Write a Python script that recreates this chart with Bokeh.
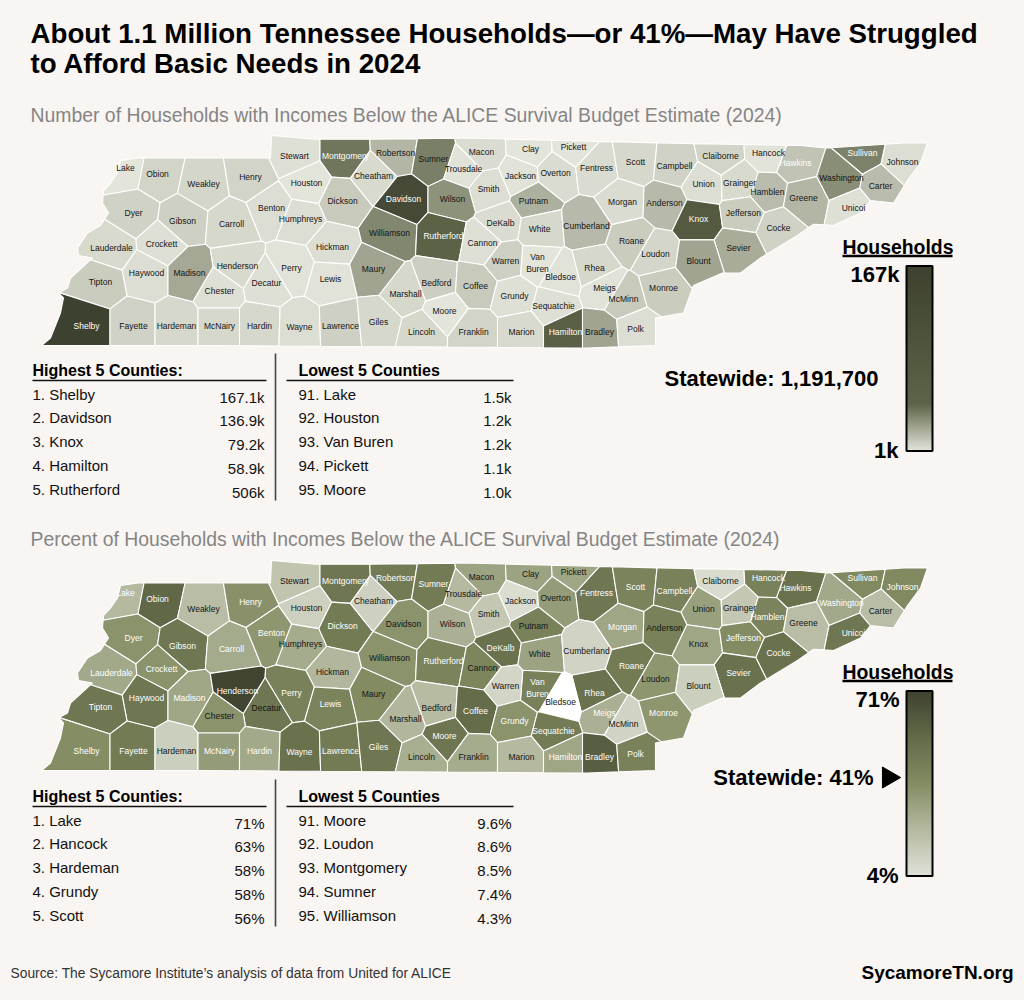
import numpy as np
from bokeh.plotting import figure
from bokeh.models import ColumnDataSource, LinearColorMapper, ColorBar, Range1d
from bokeh.core.properties import value
from bokeh.embed import file_html
from bokeh.resources import INLINE

# ---------------- DATA ----------------
county_names = [
    "Lake", "Obion", "Weakley", "Henry", "Stewart", "Montgomery", "Houston", "Dickson",
    "Dyer", "Gibson", "Carroll", "Benton", "Humphreys", "Hickman", "Lauderdale", "Crockett",
    "Haywood", "Madison", "Henderson", "Perry", "Decatur", "Lewis", "Tipton", "Chester",
    "Shelby", "Fayette", "Hardeman", "McNairy", "Hardin", "Wayne", "Lawrence", "Robertson",
    "Sumner", "Macon", "Clay", "Pickett", "Trousdale", "Cheatham", "Jackson", "Overton",
    "Fentress", "Scott", "Smith", "Davidson", "Wilson", "Putnam", "Morgan", "DeKalb",
    "White", "Cumberland", "Williamson", "Rutherford", "Cannon", "Roane", "Van Buren", "Warren",
    "Maury", "Rhea", "Bledsoe", "Loudon", "Bedford", "Coffee", "Marshall", "Grundy",
    "Meigs", "McMinn", "Sequatchie", "Moore", "Giles", "Lincoln", "Franklin", "Marion",
    "Hamilton", "Bradley", "Polk", "Monroe", "Campbell", "Claiborne", "Hancock", "Sullivan",
    "Johnson", "Hawkins", "Washington", "Carter", "Union", "Grainger", "Hamblen", "Greene",
    "Unicoi", "Anderson", "Knox", "Jefferson", "Cocke", "Sevier", "Blount",
]

# approximate county centre longitude / latitude
county_lon = [
    -89.35, -89.03, -88.57, -88.10, -87.66, -87.15, -87.54, -87.18,
    -89.27, -88.78, -88.29, -87.89, -87.60, -87.28, -89.49, -88.99,
    -89.14, -88.71, -88.23, -87.69, -87.94, -87.30, -89.60, -88.41,
    -89.74, -89.27, -88.84, -88.41, -88.01, -87.61, -87.20, -86.65,
    -86.27, -85.79, -85.30, -84.87, -85.97, -86.87, -85.40, -85.05,
    -84.64, -84.25, -85.72, -86.57, -86.08, -85.27, -84.38, -85.60,
    -85.21, -84.74, -86.71, -86.17, -85.78, -84.29, -85.23, -85.55,
    -86.87, -84.66, -85.00, -84.05, -86.24, -85.85, -86.55, -85.46,
    -84.56, -84.37, -85.07, -86.16, -86.82, -86.39, -85.87, -85.39,
    -84.95, -84.61, -84.25, -83.97, -83.86, -83.40, -82.92, -81.98,
    -81.58, -82.65, -82.19, -81.80, -83.57, -83.21, -82.93, -82.57,
    -82.07, -83.96, -83.62, -83.17, -82.82, -83.22, -83.62,
]
county_lat = [
    36.42, 36.37, 36.29, 36.35, 36.52, 36.52, 36.30, 36.16,
    36.06, 36.00, 35.97, 36.10, 36.01, 35.79, 35.78, 35.81,
    35.58, 35.58, 35.64, 35.62, 35.50, 35.53, 35.51, 35.44,
    35.16, 35.16, 35.16, 35.16, 35.16, 35.15, 35.16, 36.54,
    36.49, 36.55, 36.57, 36.59, 36.41, 36.36, 36.36, 36.38,
    36.42, 36.47, 36.25, 36.17, 36.17, 36.16, 36.15, 35.98,
    35.93, 35.96, 35.90, 35.88, 35.82, 35.84, 35.66, 35.68,
    35.61, 35.62, 35.55, 35.73, 35.50, 35.48, 35.41, 35.40,
    35.46, 35.37, 35.32, 35.28, 35.19, 35.11, 35.11, 35.11,
    35.11, 35.11, 35.13, 35.46, 36.44, 36.52, 36.54, 36.54,
    36.47, 36.46, 36.34, 36.28, 36.29, 36.30, 36.23, 36.18,
    36.10, 36.14, 36.01, 36.06, 35.94, 35.78, 35.68,
]

# households below ALICE survival budget (thousands)
households_k = [
    1.5, 6.6, 6.0, 6.5, 2.5, 37.0, 1.2, 9.5,
    7.0, 8.0, 5.5, 3.0, 3.0, 3.5, 4.5, 2.5,
    3.0, 20.5, 4.5, 1.9, 2.5, 2.2, 9.0, 2.7,
    167.1, 7.0, 5.5, 5.5, 5.0, 3.0, 8.0, 16.0,
    34.0, 4.0, 1.6, 1.1, 2.0, 4.5, 2.2, 4.0,
    4.0, 5.0, 3.5, 136.9, 28.0, 18.0, 4.0, 4.0,
    5.0, 15.0, 31.0, 50.6, 2.5, 9.0, 1.2, 8.0,
    22.0, 5.5, 2.2, 6.0, 8.5, 10.0, 5.5, 2.7,
    2.0, 10.0, 2.4, 1.0, 5.5, 5.5, 6.5, 4.5,
    58.9, 22.0, 3.0, 9.0, 7.0, 6.5, 1.7, 33.0,
    3.0, 12.0, 29.0, 14.0, 3.5, 4.5, 14.0, 16.0,
    2.8, 15.0, 79.2, 9.0, 7.0, 19.5, 22.0,
]

# percent of households below ALICE survival budget (as shaded on the map)
households_pct = [
    21, 55, 19, 35.5, 16, 48, 11.5, 46,
    35, 48, 26.5, 34, 26, 22, 27, 35,
    48, 28, 70, 43, 48, 42, 48, 35,
    37, 46, 12, 32, 27, 51, 46, 46,
    46, 29, 29, 28, 21, 11, 6, 32,
    48, 42, 15, 35, 24, 43, 28, 51,
    29, 10, 35, 42, 41, 46, 43, 9,
    38, 51, float("nan"), 34, 20, 53, 22, 35,
    24, 10, 46, 49, 48, 25, 26, 21,
    28, 59, 43, 34, 43, 7, 43, 39,
    39, 51, 27, 19, 30, 15, 42, 19,
    48, 43, 28, 38, 51, 51, 12,
]

# Tennessee outline (approximate lon / lat)
state_lon = [-90.19, -88.60, -86.60, -84.73, -84.05, -84.05, -83.77, -83.67, -83.38, -83.20,
             -83.00, -82.63, -82.47, -82.27, -82.00, -81.90, -81.67, -81.53, -81.40, -81.33,
             -81.57, -82.33, -82.60, -84.00, -84.97, -85.97, -86.97, -87.45, -87.89, -87.90,
             -89.22, -89.40, -89.43, -89.50, -89.57, -89.58, -89.52, -89.60, -89.73, -89.83,
             -89.82, -89.68, -89.90, -89.93, -90.02, -89.97, -90.00, -90.05, -90.10]
state_lat = [35.00, 35.00, 34.99, 34.98, 35.00, 35.22, 35.26, 35.48, 35.58, 35.58,
             35.70, 35.88, 35.97, 35.96, 36.06, 36.16, 36.14, 36.32, 36.46, 36.62,
             36.62, 36.58, 36.60, 36.62, 36.64, 36.66, 36.65, 36.65, 36.68, 36.50,
             36.50, 36.48, 36.38, 36.30, 36.24, 36.14, 36.06, 35.96, 35.90, 35.78,
             35.72, 35.70, 35.54, 35.46, 35.42, 35.38, 35.26, 35.16, 35.06]

# tables
hh_top_rank = [1, 2, 3, 4, 5]
hh_top_names = ["Shelby", "Davidson", "Knox", "Hamilton", "Rutherford"]
hh_top_vals = ["167.1k", "136.9k", "79.2k", "58.9k", "506k"]
hh_low_rank = [91, 92, 93, 94, 95]
hh_low_names = ["Lake", "Houston", "Van Buren", "Pickett", "Moore"]
hh_low_vals = ["1.5k", "1.2k", "1.2k", "1.1k", "1.0k"]
pct_top_rank = [1, 2, 3, 4, 5]
pct_top_names = ["Lake", "Hancock", "Hardeman", "Grundy", "Scott"]
pct_top_vals = ["71%", "63%", "58%", "58%", "56%"]
pct_low_rank = [91, 92, 93, 94, 95]
pct_low_names = ["Moore", "Loudon", "Montgomery", "Sumner", "Williamson"]
pct_low_vals = ["9.6%", "8.6%", "8.5%", "7.4%", "4.3%"]

hh_scale = [1.0, 167.1]          # legend range, thousands
pct_scale = [4, 71]              # legend range, percent
hh_scale_labels = ["1k", "167k"]
pct_scale_labels = ["4%", "71%"]
statewide_households = "1,191,700"
statewide_pct = "41%"

white_labels_hh = {"Shelby", "Davidson", "Rutherford", "Knox", "Hamilton",
                   "Hawkins", "Sullivan", "Montgomery"}
white_labels_pct = {"Lake", "Obion", "Henry", "Dyer", "Gibson", "Carroll", "Benton", "Crockett",
                    "Lauderdale", "Haywood", "Madison", "Henderson", "Perry", "Lewis", "Tipton",
                    "Shelby", "Fayette", "McNairy", "Hardin", "Wayne", "Lawrence", "Montgomery",
                    "Dickson", "Robertson", "Sumner", "Fentress", "Scott", "DeKalb", "Rutherford",
                    "Van Buren", "Rhea", "Coffee", "Moore", "Giles", "Sequatchie", "Hamilton",
                    "Bradley", "Polk", "Morgan", "Roane", "Meigs", "Campbell", "Hancock",
                    "Hawkins", "Sullivan", "Johnson", "Washington", "Hamblen", "Unicoi",
                    "Jefferson", "Cocke", "Sevier", "Monroe", "Grundy"}

n = len(county_names)
assert len(county_lon) == n == len(county_lat) == len(households_k) == len(households_pct) == 95

# ---------------- STYLE ----------------
BG = "#f9f5f2"
FONT = "Liberation Sans"
W, H = 1016, 992


def ramp(stops, m=256):
    out = []
    for k in range(m):
        t = k / (m - 1)
        for (t0, c0), (t1, c1) in zip(stops[:-1], stops[1:]):
            if t <= t1:
                break
        f = (t - t0) / (t1 - t0) if t1 > t0 else 0.0
        rgb = tuple(int(round(a + (b - a) * f)) for a, b in zip(c0, c1))
        out.append("#%02x%02x%02x" % rgb)
    return out


pal_hh = ramp([(0.0, (227, 228, 218)), (0.25, (93, 100, 71)), (1.0, (61, 65, 47))])
pal_pct = ramp([(0.0, (224, 226, 215)), (0.25, (180, 185, 160)), (0.5, (132, 140, 99)),
                (0.75, (98, 106, 72)), (1.0, (62, 66, 48))])


# projection (lon/lat -> page pixels)
def proj_x(lon):
    return 30.0 + (np.asarray(lon, dtype=float) + 90.3) * 100.0


def proj_y(lat, base):
    return base - (np.asarray(lat, dtype=float) - 35.0) * 125.0


def clip(poly, a, b, c):
    out = []
    m = len(poly)
    for k in range(m):
        P = poly[k]
        Q = poly[(k + 1) % m]
        fp = a * P[0] + b * P[1] - c
        fq = a * Q[0] + b * Q[1] - c
        if fp <= 0:
            out.append(P)
        if (fp <= 0) != (fq <= 0):
            t = fp / (fp - fq)
            out.append((P[0] + t * (Q[0] - P[0]), P[1] + t * (Q[1] - P[1])))
    return out


sx = proj_x(county_lon)
sy = proj_y(county_lat, 0.0)
outline = list(zip(proj_x(state_lon), proj_y(state_lat, 0.0)))
cells = []
for i in range(n):
    poly = outline[:]
    for j in range(n):
        if j == i:
            continue
        dx = sx[j] - sx[i]
        dy = sy[j] - sy[i]
        mx = (sx[i] + sx[j]) / 2
        my = (sy[i] + sy[j]) / 2
        poly = clip(poly, dx, dy, dx * mx + dy * my)
        if not poly:
            break
    cells.append(poly)

p = figure(width=W, height=H, x_range=Range1d(0, W), y_range=Range1d(H, 0),
           output_backend="svg", toolbar_location=None, min_border=0,
           x_axis_type=None, y_axis_type=None)
p.grid.visible = False
p.outline_line_color = None
p.background_fill_color = BG
p.border_fill_color = BG
try:
    from bokeh.models import GlobalInlineStyleSheet
    p.stylesheets = [GlobalInlineStyleSheet(css="body { background-color: %s; }" % BG)]
except Exception:
    pass


def txt(x, y, s, size, color="black", bold=False, align="left", font=FONT):
    p.text(x=[x], y=[y], text=[s], text_font=value(font), text_font_size="%spx" % size,
           text_font_style="bold" if bold else "normal", text_color=color,
           text_align=align, text_baseline="middle")


def draw_map(base, vals, palette, low, high, white_set):
    mapper = LinearColorMapper(palette=palette, low=low, high=high, nan_color="white")
    xs = [[pt[0] for pt in c] for c in cells]
    ys = [[pt[1] + base for pt in c] for c in cells]
    src = ColumnDataSource(dict(xs=xs, ys=ys, v=list(vals), name=county_names))
    p.patches("xs", "ys", source=src, fill_color={"field": "v", "transform": mapper},
              line_color="white", line_width=1.1)
    lab = ColumnDataSource(dict(
        x=list(sx), y=list(sy + base),
        t=[nm.replace("Van Buren", "Van\nBuren") for nm in county_names],
        c=["white" if nm in white_set else "#151515" for nm in county_names]))
    p.text("x", "y", text="t", source=lab, text_color="c", text_align="center",
           text_baseline="middle", text_font=value(FONT), text_font_size="8.5px",
           text_line_height=1.15)
    return mapper


def draw_table(x_left, x_right_val, y_head, ranks, names, vals, title):
    txt(x_left, y_head, title, 16, bold=True)
    ys = [y_head + 23.5 + k * 23.8 for k in range(len(names))]
    p.text(x=[x_left] * len(names), y=ys, text=["%d. %s" % (r, nm) for r, nm in zip(ranks, names)],
           text_font=value(FONT), text_font_size="15px", text_color="#111",
           text_align="left", text_baseline="middle")
    p.text(x=[x_right_val] * len(vals), y=[y + 3 for y in ys], text=vals,
           text_font=value(FONT), text_font_size="15px", text_color="#111",
           text_align="right", text_baseline="middle")


def draw_tables(y_head, tr, tn, tv, lr, ln, lv):
    draw_table(32, 264, y_head, tr, tn, tv, "Highest 5 Counties:")
    draw_table(298, 511, y_head, lr, ln, lv, "Lowest 5 Counties")
    p.segment(x0=[32, 286], y0=[y_head + 10, y_head + 10], x1=[266, 513], y1=[y_head + 10, y_head + 10],
              line_color="#111", line_width=1.3)
    p.segment(x0=[275], y0=[y_head - 17], x1=[275], y1=[y_head + 130], line_color="#444", line_width=1.6)


def draw_legend(mapper, y_top, top_lab, bot_lab):
    txt(842, y_top - 18, "Households", 19.4, bold=True)
    p.segment(x0=[842], y0=[y_top - 9], x1=[952], y1=[y_top - 9], line_color="black", line_width=2.5)
    cb = ColorBar(color_mapper=mapper, location=(906, H - (y_top + 186)), orientation="vertical",
                  width=26, height=185, padding=0, margin=0,
                  major_tick_line_color=None, minor_tick_line_color=None,
                  major_label_text_font_size="0px", major_label_text_alpha=0,
                  bar_line_color="black", bar_line_width=2,
                  background_fill_alpha=0, border_line_color=None)
    p.add_layout(cb)
    txt(899, y_top + 9, top_lab, 22, bold=True, align="right")
    txt(898, y_top + 185, bot_lab, 22, bold=True, align="right")


# ---------------- TITLES ----------------
txt(30, 33, "About 1.1 Million Tennessee Households\u2014or 41%\u2014May Have Struggled", 27.7, bold=True)
txt(30, 63, "to Afford Basic Needs in 2024", 27.7, bold=True)
txt(30, 114, "Number of Households with Incomes Below the ALICE Survival Budget Estimate (2024)",
    19.4, color="#858585")
txt(30, 538, "Percent of Households with Incomes Below the ALICE Survival Budget Estimate (2024)",
    19.4, color="#858585")

# ---------------- MAP 1 ----------------
m1 = draw_map(345.0, households_k, pal_hh, hh_scale[0], hh_scale[1], white_labels_hh)
draw_tables(370, hh_top_rank, hh_top_names, hh_top_vals, hh_low_rank, hh_low_names, hh_low_vals)
draw_legend(m1, 264.5, hh_scale_labels[1], hh_scale_labels[0])
txt(878, 378, "Statewide: " + statewide_households, 22, bold=True, align="right")

# ---------------- MAP 2 ----------------
m2 = draw_map(770.0, households_pct, pal_pct, pct_scale[0], pct_scale[1], white_labels_pct)
draw_tables(796, pct_top_rank, pct_top_names, pct_top_vals, pct_low_rank, pct_low_names, pct_low_vals)
draw_legend(m2, 689.5, pct_scale_labels[1], pct_scale_labels[0])
txt(873, 777, "Statewide: " + statewide_pct, 22, bold=True, align="right")
p.scatter(x=[888], y=[777], marker="triangle", size=21, angle=-np.pi / 2,
          fill_color="black", line_color="black")

# ---------------- FOOTER ----------------
txt(10, 973, "Source: The Sycamore Institute\u2019s analysis of data from United for ALICE", 13.8, color="#333333")
txt(1013, 972, "SycamoreTN.org", 19, bold=True, align="right")

open("out.html", "w").write(file_html(p, INLINE))
